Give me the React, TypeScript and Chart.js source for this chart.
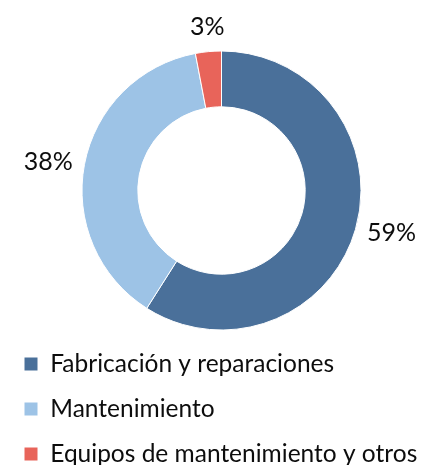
import React, { useEffect, useRef } from "react";
import { Chart, registerables } from "chart.js";

Chart.register(...registerables);

const categories = [
  "Fabricación y reparaciones",
  "Mantenimiento",
  "Equipos de mantenimiento y otros",
];
const values = [59, 38, 3];
const colors = ["#4a709a", "#9dc3e6", "#e8645a"];

const FONT = "Lato, 'Noto Sans', sans-serif";
const FONT_SIZE = 24.5;

const labelPlugin = {
  id: "outerLabels",
  afterDatasetsDraw(chart: any) {
    const ctx = chart.ctx;
    const meta = chart.getDatasetMeta(0);
    const data = chart.data.datasets[0].data as number[];
    const total = data.reduce((a, b) => a + b, 0);
    ctx.save();
    ctx.font = `25px ${FONT}`;
    ctx.fillStyle = "#0d0d0d";
    meta.data.forEach((arc: any, i: number) => {
      const { x, y, startAngle, endAngle, outerRadius } = arc.getProps(
        ["x", "y", "startAngle", "endAngle", "outerRadius"],
        true
      );
      const mid = (startAngle + endAngle) / 2;
      const cx = Math.cos(mid);
      const cy = Math.sin(mid);
      const d = outerRadius + 12;
      const tx = x + cx * d;
      const ty = y + cy * d;
      ctx.textAlign = cx > 0.3 ? "left" : cx < -0.3 ? "right" : "center";
      ctx.textBaseline = cy < -0.7 ? "bottom" : cy > 0.7 ? "top" : "middle";
      const pct = Math.round((data[i] / total) * 100) + "%";
      ctx.fillText(pct, tx, ty);
    });
    ctx.restore();
  },
};

export default function App() {
  const ref = useRef<HTMLCanvasElement>(null);
  useEffect(() => {
    if (!ref.current) return;
    const chart = new Chart(ref.current, {
      type: "doughnut",
      data: {
        labels: categories,
        datasets: [
          {
            data: values,
            backgroundColor: colors,
            borderColor: "#ffffff",
            borderWidth: 1,
            radius: 139.5,
            cutout: "60%",
          } as any,
        ],
      },
      options: {
        responsive: false,
        animation: false,
        layout: {
          padding: { left: -4.5, right: -0.5, top: 41.75, bottom: 1.75 },
        },
        plugins: {
          legend: {
            position: "bottom",
            align: "start",
            labels: {
              boxWidth: 14,
              boxHeight: 14,
              padding: 20.5,
              color: "#0d0d0d",
              font: { family: FONT, size: FONT_SIZE },
            },
          },
          tooltip: { enabled: false },
        },
      },
      plugins: [labelPlugin],
    });
    return () => chart.destroy();
  }, []);
  return (
    <div style={{ width: 427, height: 470 }}>
      <style>{"html,body{overflow:hidden}"}</style>
      <canvas
        ref={ref}
        width={427}
        height={470}
        style={{ width: 427, height: 470, display: "block" }}
      />
    </div>
  );
}
